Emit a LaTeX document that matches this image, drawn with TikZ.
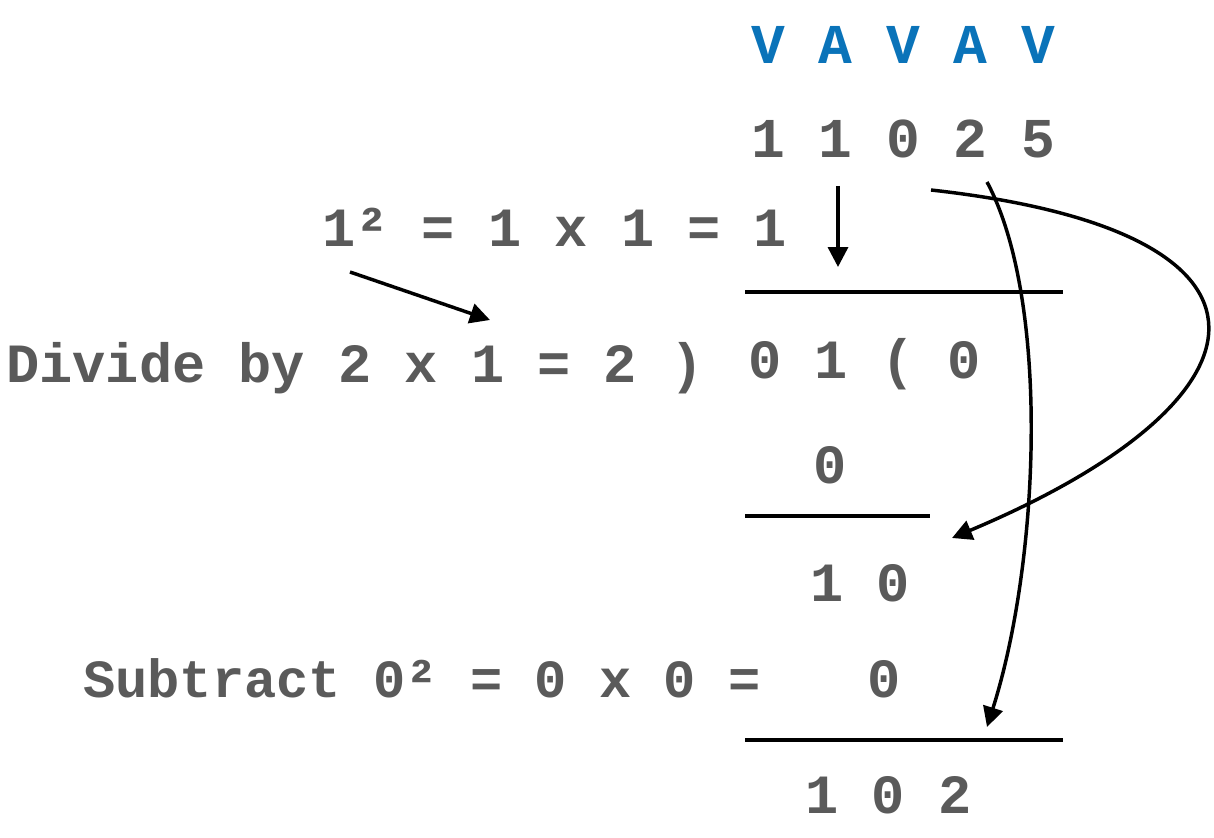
\documentclass[tikz,border=0pt]{standalone}
\usepackage{fontspec}
\setmonofont{Liberation Mono}
\usetikzlibrary{arrows.meta}
\definecolor{txtgray}{RGB}{90,90,90}
\definecolor{txtblue}{RGB}{10,115,185}
\begin{document}
\begin{tikzpicture}[x=0.75pt,y=-0.75pt,
  lbl/.style={font=\ttfamily\bfseries\fontsize{41.5}{48}\selectfont, text=txtgray, inner sep=0pt, anchor=base west},
  lblc/.style={lbl, anchor=base},
  lblsmall/.style={lbl, font=\ttfamily\bfseries\fontsize{40.3}{48}\selectfont},
  lblwide/.style={lbl, font=\ttfamily\bfseries\fontsize{42.2}{48}\selectfont},
  blue/.style={text=txtblue},
  rule/.style={line width=2.5pt, black},
  conn/.style={line width=2.6pt, black, -{Triangle[length=15pt,width=15pt]}}
]
\useasboundingbox (0,0) rectangle (1214,838);

% texts
\node[lblwide, blue] (vava) at (751,64) {V A V A V};
\node[lblwide] (num) at (751,158) {1 1 0 2 5};
\node[lbl] (sq) at (322,247) {1² = 1 x 1 = 1};
\node[lbl] (div) at (6,382) {Divide by 2 x 1 = 2 )};
\node[lbl] (quot) at (748,378) {0 1 ( 0};
\node[lblc] (zero) at (830,483) {0};
\node[lbl] (ten) at (810,601) {1 0};
\node[lblsmall] (sub) at (83,697) {Subtract 0² = 0 x 0 =};
\node[lblc] (subz) at (884,697) {0};
\node[lbl] (res) at (805,813) {1 0 2};

% rules
\draw[rule] (745,292) -- (1063,292);
\draw[rule] (745,516) -- (930,516);
\draw[rule] (745,740) -- (1063,740);

% arrow endpoints
\coordinate (d1) at (838,186);
\coordinate (d2) at (838,267);
\coordinate (s1) at (350,272);
\coordinate (s2) at (490,320);
\coordinate (c1) at (931,190);
\coordinate (c2) at (952,538);
\coordinate (b1) at (987,182);
\coordinate (b2) at (987,727);

\draw[conn] (d1) -- (d2);
\draw[conn] (s1) -- (s2);
\draw[conn] (c1) .. controls (1310,232) and (1280,400) .. (c2);
\draw[conn] (b1) .. controls (1050,300) and (1040,560) .. (b2);
\end{tikzpicture}
\end{document}
